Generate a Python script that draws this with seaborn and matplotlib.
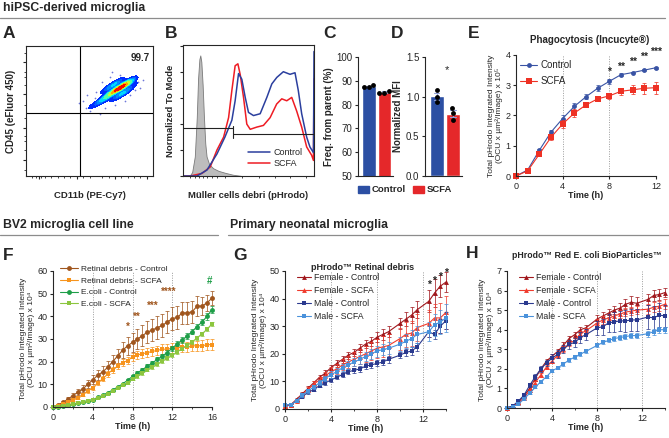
import matplotlib
matplotlib.use('Agg')
import matplotlib.pyplot as plt
import seaborn as sns
import pandas as pd
import numpy as np
from matplotlib.lines import Line2D
from matplotlib.patches import Patch
from matplotlib.colors import LinearSegmentedColormap

# ---------------- data ----------------
# A: flow cytometry cloud (hand-read density centres, weights)
cloud_x = [73, 76, 69, 79, 65, 82, 61, 57, 52, 72, 75, 67, 80, 63, 84, 70]
cloud_y = [67, 69, 65, 71, 62, 73, 59, 56, 54, 72, 63, 69, 66, 66, 70, 60]
cloud_w = [6, 5, 4, 3, 3, 2, 2, 1, 0.6, 2, 2, 1.5, 1.5, 1, 0.8, 1]
halo_x = [48, 45, 55, 60, 66, 74, 86, 88, 78, 70, 62, 50, 58, 82, 90, 54, 47, 68, 42, 92]
halo_y = [62, 58, 65, 72, 76, 78, 66, 72, 58, 55, 52, 50, 48, 62, 68, 60, 52, 80, 56, 74]

# B: histograms (normalized to mode)
gray_x = [5, 7, 9, 10.5, 11.5, 12.5, 13.2, 14, 15, 16, 17, 18, 20, 23, 27, 32, 38, 45]
gray_y = [0, 3, 15, 45, 75, 90, 93, 88, 70, 45, 25, 15, 9, 6, 4, 2.5, 1, 0]
ctrl_hx = [0, 10.7, 18.3, 25.9, 32, 37.3, 39.8, 42.4, 44.9, 47.5, 50, 53.8, 58.9, 64, 67.8,
           71.6, 76.6, 81.7, 85.5, 88, 90.6, 94.4, 96.9, 99.6, 100]
ctrl_hy = [0, 0, 4.6, 17, 30, 43, 58, 79, 74.6, 60.6, 49, 46.6, 48, 60.6, 71,
           76, 80.4, 78.4, 79.6, 66, 48, 30, 22.4, 18, 96]
scfa_hx = [0, 5.6, 14.5, 20.8, 25.9, 31, 34.8, 37.3, 39.8, 41.9, 43.7, 46.2, 48.7, 51.3, 56.3,
           61.4, 66.5, 71.5, 75.4, 79.2, 83, 86.8, 90.6, 94.4, 98.2, 99.6, 100]
scfa_hy = [0, 0, 2, 7, 20, 30, 45, 66, 85, 86.5, 78, 60.6, 40, 36, 37.7,
           39, 45, 55.5, 59.5, 58, 60.6, 50, 37.7, 22.4, 16, 12, 75]

# C, D: replicates
groups = ['Control', 'Control', 'Control', 'SCFA', 'SCFA', 'SCFA']
freq_parent = [88.3, 87.3, 87.4, 85.9, 85.0, 85.0]
norm_mfi = [1.08, 1.00, 0.93, 0.86, 0.80, 0.70]

# E: Incucyte phagocytosis (x 10^5)
e_time = [0, 1, 2, 3, 4, 5, 6, 7, 8, 9, 10, 11, 12]
e_ctrl = [0, 0.2, 0.85, 1.45, 1.9, 2.3, 2.62, 2.9, 3.13, 3.35, 3.42, 3.5, 3.58]
e_ctrl_err = [0, 0.03, 0.05, 0.08, 0.1, 0.12, 0.08, 0.1, 0.08, 0.05, 0.03, 0.03, 0.03]
e_scfa = [0, 0.17, 0.72, 1.28, 1.72, 2.08, 2.35, 2.55, 2.65, 2.8, 2.85, 2.9, 2.92]
e_scfa_err = [0, 0.03, 0.05, 0.1, 0.12, 0.12, 0.08, 0.08, 0.1, 0.12, 0.15, 0.18, 0.2]
e_stars = ['*', '**', '**', '**', '***']
e_star_x = [8, 9, 10, 11, 12]
e_star_y = [3.45, 3.6, 3.78, 3.95, 4.1]

# F: BV2 (x 10^4)
f_time = [i * 0.5 for i in range(33)]
f_ret_ctrl = [0, 1, 2, 3.5, 5, 6.5, 8, 10, 12, 14, 15.5, 17.5, 20, 22.5, 25, 27, 28.5,
              30, 31.5, 33, 34, 35, 36, 37.5, 39, 39.5, 41.5, 41.5, 42, 44.5, 44.5, 46, 48]
f_ret_ctrl_err = [0, 0.3, 0.5, 0.8, 1, 1.3, 1.5, 1.8, 2, 2.3, 2.5, 2.8, 3, 3.3, 3.6, 3.9, 4.2,
                  4.4, 4.6, 4.8, 5, 5, 5, 5, 5, 5, 5, 5, 4.8, 4.5, 4, 3.5, 3]
f_ret_scfa = [0, 0.5, 1.2, 2, 3, 4, 5.5, 7, 8.5, 10.5, 12.5, 14.5, 16.5, 18, 19.5, 20.5, 22,
              23, 23.5, 24, 24.5, 25, 25.5, 25.5, 26, 26, 26.5, 26.5, 27, 27, 27, 27.5, 27.5]
f_ret_scfa_err = [0, 0.2, 0.3, 0.4, 0.5, 0.6, 0.7, 0.8, 0.9, 1, 1.1, 1.2, 1.3, 1.4, 1.5, 1.6, 1.7,
                  1.8, 1.9, 2, 2, 2.1, 2.1, 2.2, 2.2, 2.2, 2.3, 2.3, 2.3, 2.3, 2.4, 2.4, 2.5]
f_eco_ctrl = [0, 0.2, 0.5, 0.9, 1.3, 1.8, 2.3, 2.8, 3.3, 4.2, 5.2, 6.3, 7.5, 8.8, 10.2, 11.8, 13.5,
              15, 16.5, 18, 19.5, 21, 22.5, 24, 26, 27.8, 29.5, 31.3, 33.3, 35.5, 37.5, 40, 43]
f_eco_ctrl_err = [0, 0.1, 0.1, 0.2, 0.2, 0.3, 0.3, 0.3, 0.4, 0.4, 0.5, 0.5, 0.5, 0.6, 0.6, 0.7, 0.7,
                  0.8, 0.8, 0.9, 0.9, 1, 1, 1, 1.1, 1.1, 1.2, 1.2, 1.3, 1.3, 1.4, 1.4, 1.5]
f_eco_scfa = [0, 0.2, 0.5, 0.8, 1.2, 1.6, 2.1, 2.6, 3.1, 3.9, 4.8, 5.8, 7, 8.2, 9.5, 10.8, 12.2,
              13.5, 14.8, 16.2, 17.5, 18.8, 20.2, 21.5, 22.8, 24.3, 25.8, 27.2, 28.7, 30.5, 32.3, 34.3, 36.7]
f_eco_scfa_err = [0, 0.1, 0.1, 0.1, 0.2, 0.2, 0.2, 0.3, 0.3, 0.3, 0.3, 0.4, 0.4, 0.4, 0.4, 0.5, 0.5,
                  0.5, 0.5, 0.5, 0.6, 0.6, 0.6, 0.6, 0.6, 0.7, 0.7, 0.7, 0.7, 0.8, 0.8, 0.8, 0.8]
f_stars = ['*', '**', '***', '****']
f_star_x = [7.5, 8.4, 10, 11.6]
f_star_y = [35.5, 39.6, 44.6, 50.6]

# G: primary microglia, retinal debris (x 10^4)
g_time = [i * 0.5 for i in range(19)] + [10, 10.5, 11, 11.5, 12.5, 13, 13.5, 14]
g_fem_ctrl = [1, 1.5, 3.5, 5.5, 7.5, 9.5, 11.5, 13, 15, 16.5, 18, 19.5, 20.5, 22, 23.5, 24.5, 26, 27, 28,
              31, 32.5, 34, 36, 39, 42, 44.5, 46]
g_fem_ctrl_err = [0.3, 0.4, 0.5, 0.6, 0.7, 0.8, 0.9, 1, 1, 1.2, 1.2, 1.3, 1.4, 1.5, 1.5, 1.6, 1.8, 2, 2,
                  2, 2.5, 3, 3, 4, 5, 4, 3.5]
g_fem_scfa = [1, 1.5, 3, 5, 7, 9, 10.5, 12, 13.5, 14.5, 16, 17, 18, 19, 20, 21, 22, 22.5, 23,
              25.5, 27, 27.5, 29.5, 31, 33, 33, 35]
g_fem_scfa_err = [0.3, 0.4, 0.5, 0.6, 0.8, 1, 1.2, 1.4, 1.6, 1.8, 2, 2.2, 2.5, 2.8, 3, 3.2, 3.5, 3.8, 4,
                  4, 4.5, 4.5, 5, 5, 5, 5.5, 6]
g_male_ctrl = [1.5, 1.5, 3, 4.5, 6, 7, 8.5, 9.5, 10.5, 11.5, 12.5, 13.5, 14, 14.5, 15.5, 16, 16.5, 17, 18,
               19.5, 20.5, 21, 22.5, 28, 27, 30, 32]
g_male_ctrl_err = [0.3, 0.3, 0.4, 0.5, 0.5, 0.6, 0.6, 0.7, 0.7, 0.8, 0.8, 0.9, 0.9, 1, 1, 1, 1.1, 1.1, 1.2,
                   1.2, 1.3, 1.3, 1.4, 2, 1.5, 2.5, 3]
g_male_scfa = [1.5, 1.5, 3, 5, 6.5, 8, 9.5, 11, 12.5, 13.5, 15, 16, 17, 18, 19, 20, 21, 21.5, 22,
               23.5, 24.5, 25.5, 27, 28, 30.5, 31.5, 33]
g_male_scfa_err = [0.3, 0.4, 0.5, 0.6, 0.7, 0.8, 0.9, 1, 1.1, 1.2, 1.3, 1.4, 1.5, 1.6, 1.7, 1.8, 2, 2, 2.2,
                   2.5, 2.5, 3, 3, 3.5, 4, 4.5, 5]
g_star_x = [12.5, 13, 13.5, 14]
g_star_y = [45, 46.6, 47.8, 49.3]

# H: primary microglia, E. coli (x 10^4)
h_time = [i * 0.5 for i in range(15)] + [8, 8.5, 9, 9.5, 10, 10.5, 11, 11.5, 12.5, 13, 13.5, 14]
h_fem_ctrl = [0, 0.1, 0.3, 0.6, 1.0, 1.5, 2.0, 2.4, 2.65, 2.9, 3.2, 3.55, 3.75, 4.0, 4.1,
              4.55, 4.7, 4.85, 5.0, 5.1, 5.3, 5.4, 5.35, 5.55, 5.75, 5.8, 5.9]
h_fem_ctrl_err = [0, 0.03, 0.05, 0.06, 0.08, 0.1, 0.1, 0.12, 0.12, 0.12, 0.15, 0.15, 0.15, 0.15, 0.15,
                  0.2, 0.2, 0.2, 0.2, 0.25, 0.25, 0.3, 0.3, 0.3, 0.3, 0.3, 0.25]
h_fem_scfa = [0, 0.1, 0.25, 0.5, 0.9, 1.3, 1.7, 2.1, 2.4, 2.7, 3.0, 3.3, 3.45, 3.8, 3.95,
              4.35, 4.5, 4.6, 4.7, 4.8, 4.9, 4.95, 5.0, 5.05, 5.15, 5.2, 5.3]
h_fem_scfa_err = [0, 0.03, 0.05, 0.06, 0.08, 0.1, 0.1, 0.12, 0.12, 0.12, 0.15, 0.15, 0.15, 0.15, 0.15,
                  0.2, 0.2, 0.2, 0.2, 0.2, 0.2, 0.2, 0.2, 0.25, 0.25, 0.25, 0.25]
h_male_ctrl = [0, 0.1, 0.35, 0.65, 1.15, 1.6, 2.0, 2.3, 2.55, 2.75, 3.0, 3.25, 3.35, 3.6, 3.75,
               4.1, 4.15, 4.35, 4.4, 4.45, 4.45, 4.5, 4.5, 4.65, 4.6, 4.75, 4.7]
h_male_ctrl_err = [0, 0.03, 0.05, 0.08, 0.1, 0.12, 0.15, 0.15, 0.2, 0.2, 0.2, 0.25, 0.25, 0.3, 0.3,
                   0.35, 0.4, 0.45, 0.5, 0.5, 0.55, 0.55, 0.55, 0.6, 0.6, 0.6, 0.55]
h_male_scfa = [0, 0.05, 0.2, 0.45, 0.75, 1.05, 1.35, 1.6, 1.9, 2.05, 2.25, 2.45, 2.6, 2.75, 2.9,
               3.2, 3.35, 3.45, 3.55, 3.6, 3.65, 3.7, 3.7, 3.8, 3.9, 4.0, 4.0]
h_male_scfa_err = [0, 0.02, 0.03, 0.04, 0.05, 0.05, 0.06, 0.06, 0.07, 0.07, 0.08, 0.08, 0.08, 0.08, 0.08,
                   0.1, 0.1, 0.1, 0.12, 0.12, 0.12, 0.12, 0.12, 0.15, 0.15, 0.15, 0.15]

# ---------------- style ----------------
sns.set_style('ticks')
plt.rcParams['font.family'] = ['Liberation Sans', 'DejaVu Sans']
plt.rcParams.update({'axes.linewidth': 0.8, 'xtick.major.width': 0.8, 'ytick.major.width': 0.8,
                     'xtick.major.size': 2.5, 'ytick.major.size': 2.5,
                     'xtick.minor.size': 1.5, 'ytick.minor.size': 1.5,
                     'xtick.labelsize': 6.5, 'ytick.labelsize': 6.5,
                     'xtick.major.pad': 1.5, 'ytick.major.pad': 1.5})

BLUE = '#2C4FA3'
RED = '#E5282A'

W, H = 669, 438
fig = plt.figure(figsize=(W / 100, H / 100), dpi=100)


def rect(l, t, r, b):
    return [l / W, 1 - b / H, (r - l) / W, (b - t) / H]


def ftext(x, y, s, **kw):
    fig.text(x / W, 1 - y / H, s, **kw)


def hline(y, x0, x1):
    fig.add_artist(Line2D([x0 / W, x1 / W], [1 - y / H, 1 - y / H], transform=fig.transFigure,
                          color='#8c8c8c', lw=0.9))


# headers
ftext(3, 8, 'hiPSC-derived microglia', fontsize=8.8, fontweight='bold', va='center')
hline(18, 0, 665)
ftext(3, 225, 'BV2 microglia cell line', fontsize=8.8, fontweight='bold', va='center')
hline(235, 0, 218)
ftext(230, 225, 'Primary neonatal microglia', fontsize=8.8, fontweight='bold', va='center')
hline(235, 228, 669)
for letter, x, y in [('A', 3, 33), ('B', 165, 33), ('C', 323, 33), ('D', 391, 33), ('E', 468, 33),
                     ('F', 3, 255), ('G', 233, 255), ('H', 466, 253)]:
    ftext(x, y, letter, fontsize=12.5, fontweight='bold', va='center')

# ---------------- A ----------------
axA = fig.add_axes(rect(26, 46, 153, 176))
jet = matplotlib.colormaps['jet']
cloud_cmap = LinearSegmentedColormap.from_list('jet_cut', jet(np.linspace(0.14, 0.98, 256)))
sns.scatterplot(x=halo_x, y=halo_y, ax=axA, color='#4a55d0', s=1.5, linewidth=0, alpha=0.8)
sns.kdeplot(x=cloud_x, y=cloud_y, weights=cloud_w, ax=axA, fill=True,
            cmap=cloud_cmap, levels=9, thresh=0.05, bw_adjust=0.75)
axA.axvline(42.5, color='k', lw=0.8)
axA.axhline(48.5, color='k', lw=0.8)
axA.text(90, 91, '99.7', ha='center', va='center', fontsize=7, fontweight='bold')
axA.set_xlim(0, 100)
axA.set_ylim(0, 100)
axA.set_xticks([10, 40, 70, 95])
axA.set_xticks([5, 8, 12, 15, 20, 25, 30, 35, 45, 50, 60, 65, 75, 80, 85, 90], minor=True)
axA.set_yticks([12, 37, 63, 88])
axA.set_yticks([5, 20, 27, 31, 45, 55, 70, 76, 80, 95], minor=True)
axA.tick_params(labelbottom=False, labelleft=False)
axA.set_xlabel('CD11b (PE-Cy7)', fontsize=6.8, fontweight='bold', labelpad=6)
axA.set_ylabel('CD45 (eFluor 450)', fontsize=7, fontweight='bold', labelpad=2)

# ---------------- B ----------------
axB = fig.add_axes(rect(183, 45, 314, 176))
axB.fill_between(gray_x, gray_y, color='#bdbdbd', edgecolor='#7a7a7a', lw=0.6)
sns.lineplot(x=scfa_hx, y=scfa_hy, ax=axB, color='#EE1C24', lw=1.1, label='SCFA')
sns.lineplot(x=ctrl_hx, y=ctrl_hy, ax=axB, color='#2B3F9E', lw=1.1, label='Control')
axB.plot([0, 38], [37, 37], color='#222', lw=0.8)
axB.plot([38, 100], [32, 32], color='#222', lw=0.8)
axB.plot([38, 38], [29.5, 38.5], color='#222', lw=0.8)
axB.set_xlim(0, 100)
axB.set_ylim(0, 101)
axB.set_yticks([0, 20, 40, 60, 80, 100])
axB.set_xticks([])
axB.set_xticks([5, 9, 12, 15, 18, 22, 26, 32, 45, 58, 70, 82, 94], minor=True)
axB.tick_params(labelbottom=False, labelleft=False)
hB, lB = axB.get_legend_handles_labels()
axB.legend(hB[::-1], lB[::-1], loc='lower left', bbox_to_anchor=(0.47, 0.03), frameon=False,
           fontsize=6.5, handlelength=2.4, handletextpad=0.4, labelspacing=0.25, borderaxespad=0)
axB.set_xlabel('Müller cells debri (pHrodo)', fontsize=6.8, fontweight='bold', labelpad=6)
axB.set_ylabel('Normalized To Mode', fontsize=6.8, fontweight='bold', labelpad=3)

# ---------------- C, D ----------------
cd = pd.DataFrame({'group': groups, 'freq': freq_parent, 'mfi': norm_mfi})
for col, box, ylim, ticks, tl, ylab in [
        ('freq', (358, 57, 393, 176), (50, 100), [50, 60, 70, 80, 90, 100], None, 'Freq. from parent (%)'),
        ('mfi', (425, 57, 462, 176), (0, 1.5), [0, 0.5, 1.0, 1.5], ['0.0', '0.5', '1.0', '1.5'], 'Normalized MFI')]:
    ax = fig.add_axes(rect(*box))
    sns.barplot(data=cd, x='group', y=col, hue='group', palette=[BLUE, RED], ax=ax, legend=False,
                errorbar='se', capsize=0.35, width=0.85, saturation=1,
                err_kws={'linewidth': 0.8, 'color': '#8fa0d8'})
    sns.swarmplot(data=cd, x='group', y=col, ax=ax, color='k', size=3.5)
    ax.set_ylim(*ylim)
    ax.set_yticks(ticks)
    if tl:
        ax.set_yticklabels(tl)
    ax.tick_params(axis='y', labelsize=7)
    ax.set_xlim(-0.7, 1.55)
    ax.set_xticks([])
    ax.set_xlabel('')
    ax.set_ylabel(ylab, fontsize=7, fontweight='bold', labelpad=2)
    sns.despine(ax=ax)
    if col == 'mfi':
        ax.text(0.62, 1.34, '*', ha='center', va='center', fontsize=8)
fig.legend([Patch(color=BLUE), Patch(color=RED)], ['Control', 'SCFA'], loc='center',
           bbox_to_anchor=(405 / W, 1 - 190 / H), ncol=2, frameon=False,
           prop={'size': 6.8, 'weight': 'bold'},
           handlelength=1.1, handleheight=0.8, handletextpad=0.3, columnspacing=0.8)


# ---------------- time-course helper ----------------
def series(ax, t, y, err, color, marker, label, ms=3.5):
    ax.errorbar(t, y, yerr=err, fmt='none', ecolor=color, elinewidth=0.7, capsize=1.6,
                capthick=0.7, alpha=0.75, clip_on=False)
    sns.lineplot(x=t, y=y, ax=ax, color=color, marker=marker, markersize=ms, markeredgewidth=0,
                 linewidth=0.8, label=label, clip_on=False)


def timeaxis(ax, xmax, xt, ylim, yt, ylab, leg_anchor, hl, leg_size, minor=None):
    ax.set_xlim(0, xmax)
    ax.set_ylim(*ylim)
    ax.set_xticks(xt)
    if minor:
        ax.set_xticks(minor, minor=True)
    ax.set_yticks(yt)
    for v in xt[1:]:
        ax.axvline(v, color='#9a9a9a', lw=0.7, ls=(0, (1, 1.5)), zorder=0)
    ax.set_xlabel('Time (h)', fontsize=6.5, fontweight='bold', labelpad=0)
    ax.set_ylabel(ylab, fontsize=6, labelpad=2, linespacing=1.0)
    sns.despine(ax=ax)
    ax.legend(loc='upper left', bbox_to_anchor=leg_anchor, frameon=False, fontsize=leg_size,
              handlelength=hl, handletextpad=0.35, labelspacing=0.45, borderaxespad=0)


YL5 = 'Total pHrodo Integrated Intensity\n(OCU x µm²/Image) x 10⁵'
YL4 = 'Total pHrodo Integrated Intensity\n(OCU x µm²/Image) x 10⁴'

# ---------------- E ----------------
axE = fig.add_axes(rect(516, 55, 656, 176))
series(axE, e_time, e_ctrl, e_ctrl_err, '#3953A4', 'o', 'Control', ms=3.5)
series(axE, e_time, e_scfa, e_scfa_err, '#EE3124', 's', 'SCFA', ms=4)
timeaxis(axE, 12, [0, 4, 8, 12], (0, 4), [0, 1, 2, 3, 4], YL5, (0.0, 1.0), 1.8, 7)
axE.legend(loc='upper left', bbox_to_anchor=(0.0, 0.99), frameon=False, fontsize=7,
           handlelength=1.8, handletextpad=0.35, labelspacing=0.6, borderaxespad=0)
for s, x, y in zip(e_stars, e_star_x, e_star_y):
    axE.text(x, y, s, ha='center', va='center', fontsize=7.5, fontweight='bold', clip_on=False)
ftext(590, 40, 'Phagocytosis (Incucyte®)', fontsize=7, fontweight='bold', ha='center', va='center')

# ---------------- F ----------------
axF = fig.add_axes(rect(53, 271, 212, 407))
series(axF, f_time, f_ret_ctrl, f_ret_ctrl_err, '#A0561E', 'o', 'Retinal debris - Control')
series(axF, f_time, f_ret_scfa, f_ret_scfa_err, '#F7941D', 's', 'Retinal debris - SCFA')
series(axF, f_time, f_eco_ctrl, f_eco_ctrl_err, '#1E9E48', 'o', 'E.coli - Control')
series(axF, f_time, f_eco_scfa, f_eco_scfa_err, '#8CC63F', 's', 'E.coli - SCFA')
timeaxis(axF, 16, [0, 4, 8, 12, 16], (0, 60), [0, 10, 20, 30, 40, 50, 60], YL4,
         (0.02, 1.065), 2.2, 6.0, minor=[2, 6, 10, 14])
for s, x, y in zip(f_stars, f_star_x, f_star_y):
    axF.text(x, y, s, ha='center', va='center', fontsize=7, color='#A0561E', fontweight='bold')
axF.text(15.8, 55.7, '#', ha='center', va='center', fontsize=7, color='#1E9E48', fontweight='bold')

# ---------------- G ----------------
axG = fig.add_axes(rect(285, 271, 446, 409))
series(axG, g_time, g_fem_ctrl, g_fem_ctrl_err, '#A1181D', '^', 'Female - Control')
series(axG, g_time, g_fem_scfa, g_fem_scfa_err, '#F03C2E', '^', 'Female - SCFA')
series(axG, g_time, g_male_ctrl, g_male_ctrl_err, '#2B3A8F', 's', 'Male - Control')
series(axG, g_time, g_male_scfa, g_male_scfa_err, '#4A92DB', 's', 'Male - SCFA')
timeaxis(axG, 14, [0, 4, 8, 12], (0, 50), [0, 10, 20, 30, 40, 50], YL4,
         (0.05, 1.01), 1.6, 6.3, minor=[2, 6, 10, 14])
for x, y in zip(g_star_x, g_star_y):
    axG.text(x, y, '*', ha='center', va='center', fontsize=7.5, fontweight='bold', clip_on=False)
ftext(363, 267, 'pHrodo™ Retinal debris', fontsize=6.5, fontweight='bold', ha='center', va='center')

# ---------------- H ----------------
axH = fig.add_axes(rect(507, 271, 665, 408))
series(axH, h_time, h_fem_ctrl, h_fem_ctrl_err, '#A1181D', '^', 'Female - Control')
series(axH, h_time, h_fem_scfa, h_fem_scfa_err, '#F03C2E', '^', 'Female - SCFA')
series(axH, h_time, h_male_ctrl, h_male_ctrl_err, '#2B3A8F', 's', 'Male - Control')
series(axH, h_time, h_male_scfa, h_male_scfa_err, '#4A92DB', 's', 'Male - SCFA')
timeaxis(axH, 14, [0, 4, 8, 12], (0, 7), [0, 1, 2, 3, 4, 5, 6, 7], YL4,
         (0.055, 1.01), 1.6, 6.3, minor=[2, 6, 10, 14])
ftext(587, 256, 'pHrodo™ Red E. coli BioParticles™', fontsize=6.3, fontweight='bold',
      ha='center', va='center')

fig.savefig('out.png', dpi=100)
